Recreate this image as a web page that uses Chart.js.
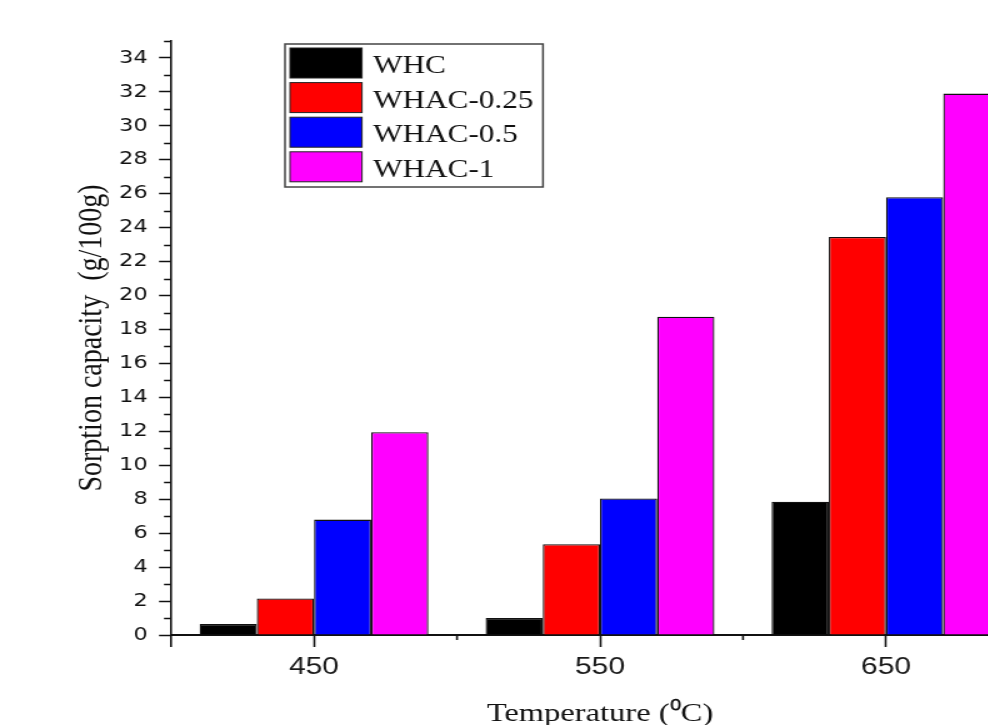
<!DOCTYPE html>
<html>
<head>
<meta charset="utf-8">
<script src="https://cdn.jsdelivr.net/npm/chart.js@4.4.1/dist/chart.umd.min.js"></script>
<style>
  html, body { margin: 0; padding: 0; background: #fff; overflow: hidden; }
</style>
</head>
<body>
<!-- the source figure is stretched sideways (~1.25x): draw narrow, widen with inline style -->
<canvas id="chart" width="840" height="725" style="width:1050px;height:725px;display:block"></canvas>
<script>
// ── Data ────────────────────────────────────────────────────────────────
const TEMPERATURES = ['450', '550', '650'];
const SERIES_NAMES = ['WHC', 'WHAC-0.25', 'WHAC-0.5', 'WHAC-1'];
const WHC      = [0.65, 1.0, 7.85];
const WHAC_025 = [2.15, 5.35, 23.45];
const WHAC_05  = [6.8, 8.05, 25.8];
const WHAC_1   = [11.95, 18.75, 31.9];
const Y_MAX = 35;

const COLORS = ['#000000', '#ff0000', '#0000ff', '#ff00ff'];
const SX = 1.25; // horizontal stretch

// ── Minor ticks + axis end tick ─────────────────────────────────────────
const minorTicks = {
  id: 'minorTicks',
  afterDraw(chart) {
    const { ctx, chartArea, scales: { x, y } } = chart;
    ctx.save();
    ctx.strokeStyle = '#111';
    ctx.beginPath();
    ctx.lineWidth = 1.5;
    for (let v = 1; v <= Y_MAX; v += 2) {
      const py = Math.round(y.getPixelForValue(v)) + 0.5;
      ctx.moveTo(chartArea.left - 7 / SX, py);
      ctx.lineTo(chartArea.left, py);
    }
    ctx.stroke();
    ctx.beginPath();
    ctx.lineWidth = 1.6;
    const x0 = x.getPixelForValue(-0.5);
    ctx.moveTo(x0, chartArea.bottom);
    ctx.lineTo(x0, chartArea.bottom + 12);
    for (let i = 0.5; i < TEMPERATURES.length - 1; i += 1) {
      const px = x.getPixelForValue(i);
      ctx.moveTo(px, chartArea.bottom);
      ctx.lineTo(px, chartArea.bottom + 5);
    }
    ctx.stroke();
    ctx.restore();
  }
};

// ── Boxed legend inside the plot ────────────────────────────────────────
const boxLegend = {
  id: 'boxLegend',
  afterDraw(chart) {
    const { ctx } = chart;
    ctx.save();
    ctx.fillStyle = '#fff';
    ctx.fillRect(285 / SX, 44, 258 / SX, 143);
    ctx.strokeStyle = '#444';
    ctx.lineWidth = 1.5;
    ctx.strokeRect(285 / SX, 44, 258 / SX, 143);
    chart.data.datasets.forEach((ds, i) => {
      const rowTop = 48 + i * 34.6;
      ctx.fillStyle = ds.backgroundColor;
      ctx.fillRect(290 / SX, rowTop, 72 / SX, 30);
      ctx.strokeStyle = '#222';
      ctx.lineWidth = 1;
      ctx.strokeRect(290 / SX, rowTop, 72 / SX, 30);
      ctx.fillStyle = '#111';
      ctx.font = '25px "Liberation Serif"';
      ctx.textBaseline = 'alphabetic';
      ctx.fillText(ds.label, 373 / SX, rowTop + 25);
    });
    ctx.restore();
  }
};

const SERIES = [WHC, WHAC_025, WHAC_05, WHAC_1];

new Chart(document.getElementById('chart'), {
  type: 'bar',
  data: {
    labels: TEMPERATURES,
    datasets: SERIES.map((d, i) => ({
      label: SERIES_NAMES[i],
      data: d,
      backgroundColor: COLORS[i],
      borderColor: '#111',
      borderWidth: 1.3,
      barPercentage: 1,
      categoryPercentage: 0.8,
    })),
  },
  options: {
    responsive: false,
    animation: false,
    devicePixelRatio: 1,
    layout: { padding: { top: 41, right: 840 - 1029 / SX, left: 0, bottom: 0 } },
    plugins: { legend: { display: false }, tooltip: { enabled: false } },
    scales: {
      x: {
        afterFit: (s) => { s.height = 90; },
        border: { display: true, color: '#111', width: 2 },
        grid: { offset: false, drawOnChartArea: false, tickLength: 12, tickWidth: 1.6, tickColor: '#111' },
        ticks: { padding: 6, color: '#1a1a1a', font: { family: 'Liberation Sans', size: 24 } },
        title: {
          display: true, text: 'Temperature (\u2070C)', color: '#111',
          font: { family: 'Liberation Serif', size: 26 }, padding: { top: 0, bottom: -5 },
        },
      },
      y: {
        min: 0, max: Y_MAX,
        afterFit: (s) => { s.width = 171 / SX; },
        border: { display: true, color: '#111', width: 1.6 },
        grid: {
          drawOnChartArea: false, tickLength: 12 / SX, tickWidth: 1.5,
          tickColor: (c) => (c.tick && c.tick.value % 2 === 0 ? '#111' : 'rgba(0,0,0,0)'),
        },
        ticks: {
          stepSize: 1, autoSkip: false, padding: 9, color: '#111',
          font: { family: 'DejaVu Sans', size: 18 },
          callback: (v) => (v % 2 === 0 ? v : ''),
        },
        title: {
          display: true, text: 'Sorption capacity  (g/100g)', color: '#111',
          font: { family: 'Liberation Serif', size: 28 }, padding: { top: 57, bottom: 0 },
        },
      },
    },
  },
  plugins: [minorTicks, boxLegend],
});
</script>
</body>
</html>
